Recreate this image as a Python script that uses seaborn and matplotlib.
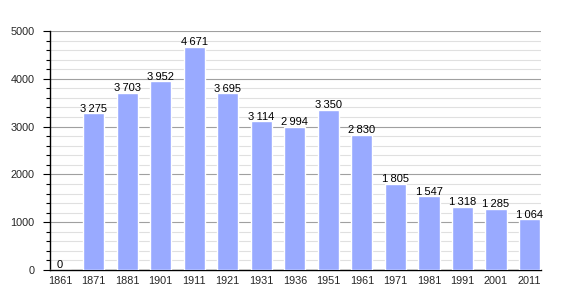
import matplotlib
matplotlib.use("Agg")
import matplotlib.pyplot as plt
import seaborn as sns
import pandas as pd
from matplotlib.ticker import MultipleLocator

years = ["1861", "1871", "1881", "1901", "1911", "1921", "1931", "1936",
         "1951", "1961", "1971", "1981", "1991", "2001", "2011"]
population = [0, 3275, 3703, 3952, 4671, 3695, 3114, 2994,
              3350, 2830, 1805, 1547, 1318, 1285, 1064]

df = pd.DataFrame({"year": years, "pop": population})

sns.set_style("white")
plt.rcParams["font.family"] = ["Liberation Sans", "DejaVu Sans"]

fig = plt.figure(figsize=(5.7, 3.0), dpi=100)
ax = fig.add_axes([50 / 570, 30 / 300, 491 / 570, 239 / 300])

sns.barplot(data=df, x="year", y="pop", color="#99aaff", saturation=1,
            width=0.63, ax=ax, zorder=3)

ax.set_ylim(0, 5000)
ax.set_xlim(-0.3, 14.34)
ax.yaxis.set_major_locator(MultipleLocator(1000))
ax.yaxis.set_minor_locator(MultipleLocator(200))
ax.grid(axis="y", which="major", color="#a0a0a0", linewidth=0.8, zorder=0)
ax.grid(axis="y", which="minor", color="#e0e0e0", linewidth=0.8, zorder=0)
ax.set_axisbelow(True)

for s in ["top", "right"]:
    ax.spines[s].set_visible(False)
for s in ["left", "bottom"]:
    ax.spines[s].set_color("black")
    ax.spines[s].set_linewidth(1.0)

ax.tick_params(axis="y", which="major", length=5, width=0.8, color="black",
               labelsize=7.8, left=True, pad=6)
ax.tick_params(axis="y", which="minor", length=3, width=0.8, color="black", left=True)
ax.tick_params(axis="x", length=0, labelsize=7.8, pad=4)
ax.set_xlabel("")
ax.set_ylabel("")

for i, v in enumerate(population):
    label = f"{v:,}".replace(",", "\u2009")
    ax.text(i, v - 10, label, ha="center", va="bottom", fontsize=8, color="black")

fig.savefig("out.png", dpi=100)
